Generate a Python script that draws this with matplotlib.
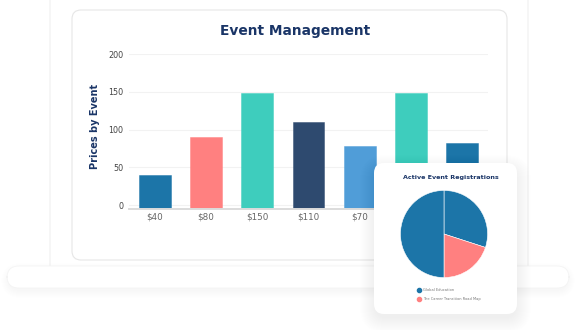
import numpy as np
import matplotlib
matplotlib.use("Agg")
import matplotlib.pyplot as plt
from matplotlib.patches import FancyBboxPatch

# bar chart data
price_labels = ["$40", "$80", "$150", "$110", "$70", "$150", "$80"]
price_values = [40, 90, 148, 110, 78, 148, 82]
bar_colors = ["#1c75a8", "#ff8080", "#3ecdbd", "#2e4a6f", "#509dd8", "#3ecdbd", "#1c75a8"]
y_ticks = [0, 50, 100, 150, 200]

# pie chart data
reg_labels = ["Global Education", "The Career Transition Road Map", ""]
reg_values = [30, 20, 50]
reg_colors = ["#1c75a8", "#ff8080", "#1c75a8"]

NAVY = "#1a3567"
W, H = 576, 330


def px_axes(fig, x0, y0, x1, y1, z=1):
    # axes rect from pixel box (top-left origin)
    return fig.add_axes([x0 / W, 1 - y1 / H, (x1 - x0) / W, (y1 - y0) / H], zorder=z)


def rbox(ax, x0, y0, x1, y1, r, fc="white", ec="none", lw=0.8, alpha=1.0, z=1):
    p = FancyBboxPatch((x0, y0), x1 - x0, y1 - y0,
                       boxstyle=f"round,pad=0,rounding_size={r}",
                       fc=fc, ec=ec, lw=lw, alpha=alpha, zorder=z)
    ax.add_patch(p)


def shadow(ax, x0, y0, x1, y1, r, spread=10, dy=4, a=0.004, z=0):
    for i in range(spread, 0, -1):
        rbox(ax, x0 - i, y0 - i + dy, x1 + i, y1 + i + dy, r + i,
             fc="#000000", alpha=a, z=z)


fig = plt.figure(figsize=(W / 100, H / 100), dpi=100)
fig.patch.set_facecolor("white")

# background: laptop + card
bg = fig.add_axes([0, 0, 1, 1], zorder=0)
bg.set_xlim(0, W)
bg.set_ylim(H, 0)
bg.axis("off")

rbox(bg, 50, -20, 528, 272, 6, fc="white", ec="#f0f0f0", lw=0.8, z=1)
shadow(bg, 9, 268, 567, 287, 12, spread=8, dy=3, a=0.005, z=1)
rbox(bg, 7, 266, 569, 288, 12, fc="white", ec="#f3f3f3", lw=0.5, z=2)
rbox(bg, 72, 10, 507, 260, 9, fc="white", ec="#e6e6e6", lw=0.8, z=3)

bg.text(295.5, 31, "Event Management", ha="center", va="center",
        fontsize=9.9, fontweight="bold", color=NAVY, zorder=4)
bg.text(95, 126, "Prices by Event", ha="center", va="center", rotation=90,
        fontsize=7, fontweight="bold", color=NAVY, zorder=4)

# bar chart
ax = px_axes(fig, 129, 54, 488, 208.5, z=2)
ax.patch.set_alpha(0)
y0 = -4.5  # axis floor sits a little below zero
x = np.arange(len(price_values))
ax.bar(x, np.array(price_values) - y0, bottom=y0, width=0.62, color=bar_colors,
       edgecolor=[matplotlib.colors.to_rgba(c, 0.55) for c in bar_colors], linewidth=0.6)
ax.set_xlim(-0.5, len(price_values) - 0.5)
ax.set_ylim(y0, 200)
ax.set_yticks(y_ticks)
ax.set_xticks(x, price_labels)
ax.grid(axis="y", color="#f2f2f2", lw=0.8)
ax.set_axisbelow(True)
for s in ["top", "right", "left"]:
    ax.spines[s].set_visible(False)
ax.spines["bottom"].set_color("#dcdcdc")
ax.spines["bottom"].set_linewidth(1.4)
ax.tick_params(axis="y", length=0, labelsize=5.8, labelcolor="#444444", pad=4)
ax.tick_params(axis="x", length=0, labelsize=6.3, labelcolor="#666666", pad=3)

# pie card overlay
fg = fig.add_axes([0, 0, 1, 1], zorder=3)
fg.patch.set_alpha(0)
fg.set_xlim(0, W)
fg.set_ylim(H, 0)
fg.axis("off")
shadow(fg, 376, 166, 515, 312, 10, spread=16, dy=5, a=0.0035, z=1)
rbox(fg, 374, 163, 517, 314, 10, fc="white", ec="none", z=2)
fg.text(450.5, 177, "Active Event Registrations", ha="center", va="center",
        fontsize=4.6, fontweight="bold", color=NAVY, zorder=3)

pax = px_axes(fig, 400, 190, 488, 278, z=4)
pax.pie(reg_values, colors=reg_colors, startangle=90, counterclock=False,
        wedgeprops=dict(edgecolor="#ffffff", linewidth=0.4))
pax.set_xlim(-1.01, 1.01)
pax.set_ylim(-1.01, 1.01)
pax.set_aspect("equal")

# legend
leg_y = [290, 299]
for i in range(2):
    fg.scatter([418.5], [leg_y[i]], s=9, color=reg_colors[i], zorder=5)
    fg.text(423, leg_y[i], reg_labels[i], ha="left", va="center",
            fontsize=2.6, color="#777777", zorder=5)

fig.savefig("out.png", dpi=100, facecolor="white")
